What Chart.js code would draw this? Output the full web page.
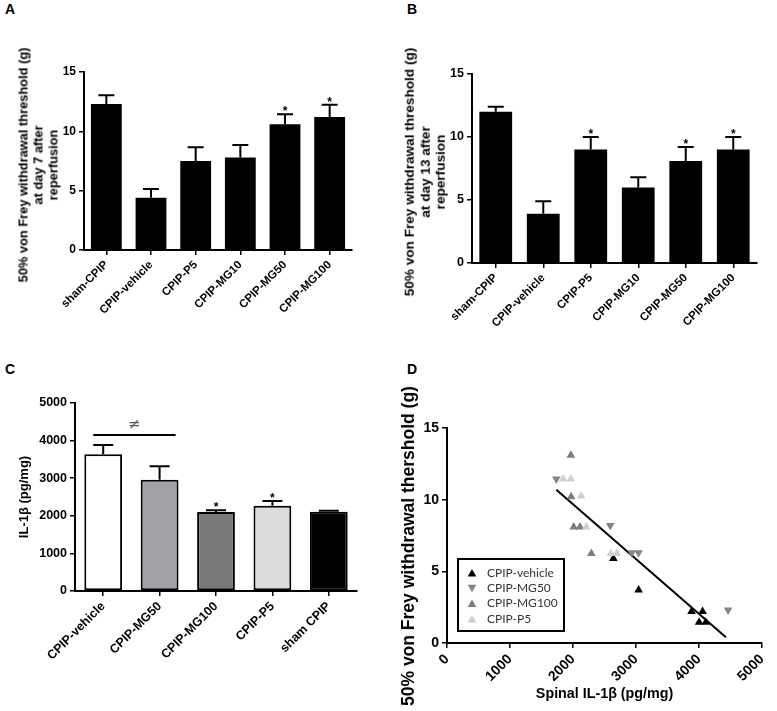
<!DOCTYPE html>
<html>
<head>
<meta charset="utf-8">
<script src="https://cdn.jsdelivr.net/npm/chart.js@4.4.1/dist/chart.umd.min.js"></script>
<style>
body { margin: 0; background: #fff; width: 777px; height: 711px; position: relative; overflow: hidden; font-family: "Liberation Sans", Arial, sans-serif; }
.panel { position: absolute; }
.letter { position: absolute; font-weight: bold; font-size: 14px; line-height: 14px; color: #000; }
.ytitle { position: absolute; font-weight: bold; color: #000; white-space: nowrap; text-align: center; transform: translate(-50%, -50%) rotate(-90deg); }
</style>
</head>
<body>
<div class="letter" style="left:5px;top:2px">A</div>
<div class="letter" style="left:407px;top:2px">B</div>
<div class="letter" style="left:5px;top:362px">C</div>
<div class="letter" style="left:407px;top:362px">D</div>

<div class="panel" style="left:0;top:0;width:390px;height:360px"><canvas id="chartA"></canvas></div>
<div class="panel" style="left:390px;top:0;width:387px;height:360px"><canvas id="chartB"></canvas></div>
<div class="panel" style="left:0;top:360px;width:390px;height:351px"><canvas id="chartC"></canvas></div>
<div class="panel" style="left:390px;top:360px;width:387px;height:351px"><canvas id="chartD"></canvas></div>

<div class="ytitle" style="left:37.5px;top:165px;font-size:12.85px;line-height:15px">50% von Frey withdrawal threshold (g)<br>at day 7 after<br>reperfusion</div>
<div class="ytitle" style="left:425px;top:172px;font-size:13.6px;line-height:15.5px">50% von Frey withdrawal threshold (g)<br>at day 13 after<br>reperfusion</div>
<div class="ytitle" style="left:408px;top:546px;font-size:17.5px;line-height:18px">50% von Frey withdrawal thershold (g)</div>

<script>
// Panel A / B - von Frey threshold at day 7 and day 13
const groupsAB = ['sham-CPIP', 'CPIP-vehicle', 'CPIP-P5', 'CPIP-MG10', 'CPIP-MG50', 'CPIP-MG100'];
const day7Mean = [12.3, 4.4, 7.5, 7.8, 10.6, 11.2];
const day7Sem = [0.75, 0.75, 1.15, 1.05, 0.85, 1.05];
const day7Stars = ['', '', '', '', '*', '*'];
const day13Mean = [12.0, 3.9, 9.0, 6.0, 8.1, 9.0];
const day13Sem = [0.4, 1.0, 1.0, 0.8, 1.1, 1.0];
const day13Stars = ['', '', '*', '', '*', '*'];
const thresholdTicks = [0, 5, 10, 15];

// Panel C - spinal IL-1b
const groupsC = ['CPIP-vehicle', 'CPIP-MG50', 'CPIP-MG100', 'CPIP-P5', 'sham CPIP'];
const il1bMean = [3640, 2960, 2100, 2270, 2110];
const il1bSem = [245, 360, 50, 125, 25];
const il1bStars = ['', '', '*', '*', ''];
const il1bColors = ['#ffffff', '#a2a2a6', '#7a7a7a', '#dcdcdc', '#000000'];
const il1bTicks = [0, 1000, 2000, 3000, 4000, 5000];
const sigLevel = 4150;       // horizontal line over vehicle vs MG50
const sigMarkLevel = 4420;   // "≠" above it

// Panel D - correlation
const vehicleX = [2640, 3040, 3880, 4055, 4000, 4105];
const vehicleY = [5.9, 3.7, 2.2, 2.2, 1.45, 1.45];
const mg50X = [1735, 2590, 2930, 3040, 4460];
const mg50Y = [11.45, 8.2, 6.3, 6.3, 2.3];
const mg100X = [1965, 1970, 2010, 2110, 2290];
const mg100Y = [13.1, 10.2, 8.1, 8.1, 6.25];
const p5X = [1845, 1965, 2130, 2210, 2600, 2695];
const p5Y = [11.45, 11.45, 10.25, 8.1, 6.25, 6.25];
const fitX = [1735, 4425];
const fitY = [10.7, 0.4];
const il1bAxisTicks = [0, 1000, 2000, 3000, 4000, 5000];
const seriesD = ['CPIP-vehicle', 'CPIP-MG50', 'CPIP-MG100', 'CPIP-P5'];
const colorsD = ['#000000', '#858585', '#7d7d7d', '#cfcfcf'];

Chart.defaults.color = '#000';
Chart.defaults.font.family = '"Liberation Sans", Arial, sans-serif';
Chart.defaults.animation = false;

const toPoints = (xs, ys) => xs.map((x, i) => ({ x: x, y: ys[i] }));
const fixedTicks = list => (s => { s.ticks = list.map(v => ({ value: v })); });

// error bars (upper only) + significance stars
function errorBarPlugin(mean, sem, stars, cap, starSize) {
    return {
        id: 'errorBars',
        afterDatasetsDraw(chart) {
            const ctx = chart.ctx;
            const yScale = chart.scales.y;
            const meta = chart.getDatasetMeta(0);
            ctx.save();
            ctx.strokeStyle = '#000';
            ctx.lineWidth = 2;
            meta.data.forEach((bar, i) => {
                const top = yScale.getPixelForValue(mean[i] + sem[i]);
                ctx.beginPath();
                ctx.moveTo(bar.x, bar.y);
                ctx.lineTo(bar.x, top);
                ctx.moveTo(bar.x - cap, top);
                ctx.lineTo(bar.x + cap, top);
                ctx.stroke();
                if (stars[i]) {
                    ctx.fillStyle = '#000';
                    ctx.font = 'bold ' + starSize + 'px "Liberation Sans", Arial, sans-serif';
                    ctx.textAlign = 'center';
                    ctx.textBaseline = 'alphabetic';
                    ctx.fillText(stars[i], bar.x, top + 1);
                }
            });
            ctx.restore();
        }
    };
}

function axisStyle(extra) {
    return Object.assign({
        border: { display: true, color: '#000', width: 2 },
        grid: { display: true, drawOnChartArea: false, drawTicks: true, tickLength: 5, color: '#000', lineWidth: 1.5 }
    }, extra);
}

const catGrid = { display: true, offset: false, drawOnChartArea: false, tickLength: 5, color: '#000', lineWidth: 1.5 };

function thresholdChart(id, labels, mean, sem, stars, fonts, box) {
    new Chart(document.getElementById(id), {
        type: 'bar',
        data: {
            labels: labels,
            datasets: [{
                data: mean,
                backgroundColor: '#000',
                borderWidth: 0,
                categoryPercentage: 1,
                barPercentage: 0.69
            }]
        },
        options: {
            responsive: true,
            maintainAspectRatio: false,
            layout: { padding: box.padding },
            plugins: { legend: { display: false }, tooltip: { enabled: false } },
            scales: {
                x: axisStyle({
                    grid: catGrid,
                    ticks: { font: { size: fonts.x, weight: 'bold' }, minRotation: 45, maxRotation: 45, autoSkip: false },
                    afterFit: s => { s.height = box.xHeight; }
                }),
                y: axisStyle({
                    min: 0, max: 15,
                    afterBuildTicks: fixedTicks(thresholdTicks),
                    ticks: { font: { size: fonts.y, weight: 'bold' }, padding: 3, callback: v => v },
                    afterFit: s => { s.width = box.yWidth; }
                })
            }
        },
        plugins: [errorBarPlugin(mean, sem, stars, 8, 12)]
    });
}

thresholdChart('chartA', groupsAB, day7Mean, day7Sem, day7Stars,
    { x: 11.5, y: 12 },
    { padding: { left: 11, top: 72, right: 38, bottom: 30 }, yWidth: 73, xHeight: 80 });

thresholdChart('chartB', groupsAB, day13Mean, day13Sem, day13Stars,
    { x: 11.5, y: 12.5 },
    { padding: { left: 7, top: 74, right: 20, bottom: 17 }, yWidth: 75, xHeight: 80 });

// significance bracket for panel C
const sigPlugin = {
    id: 'sigLine',
    afterDatasetsDraw(chart) {
        const ctx = chart.ctx;
        const x = chart.scales.x, y = chart.scales.y;
        const yLine = y.getPixelForValue(sigLevel);
        const x0 = x.getPixelForValue(0) - 10;
        const x1 = x.getPixelForValue(1) + 16;
        ctx.save();
        ctx.strokeStyle = '#000';
        ctx.lineWidth = 2;
        ctx.beginPath();
        ctx.moveTo(x0, yLine);
        ctx.lineTo(x1, yLine);
        ctx.stroke();
        ctx.fillStyle = '#555';
        ctx.font = '15px "DejaVu Sans", sans-serif';
        ctx.textAlign = 'center';
        ctx.textBaseline = 'middle';
        ctx.fillText('≠', (x0 + x1) / 2, y.getPixelForValue(sigMarkLevel));
        ctx.restore();
    }
};

new Chart(document.getElementById('chartC'), {
    type: 'bar',
    data: {
        labels: groupsC,
        datasets: [{
            data: il1bMean,
            backgroundColor: il1bColors,
            borderColor: '#000',
            borderWidth: 2,
            borderSkipped: false,
            categoryPercentage: 1,
            barPercentage: 0.67
        }]
    },
    options: {
        responsive: true,
        maintainAspectRatio: false,
        layout: { padding: { left: 13, top: 43, right: 33, bottom: 40 } },
        plugins: { legend: { display: false }, tooltip: { enabled: false } },
        scales: {
            x: axisStyle({
                grid: catGrid,
                ticks: { font: { size: 12.5, weight: 'bold' }, minRotation: 45, maxRotation: 45, autoSkip: false },
                afterFit: s => { s.height = 80; }
            }),
            y: axisStyle({
                min: 0, max: 5000,
                afterBuildTicks: fixedTicks(il1bTicks),
                ticks: { font: { size: 12.5, weight: 'bold' }, padding: 3, callback: v => v },
                title: { display: true, text: 'IL-1β (pg/mg)', font: { size: 13, weight: 'bold' }, padding: { top: 4, bottom: 0 } },
                afterFit: s => { s.width = 62; }
            })
        }
    },
    plugins: [errorBarPlugin(il1bMean, il1bSem, il1bStars, 10, 12), sigPlugin]
});

// legend drawn inside the plot area of panel D
const insideLegend = {
    id: 'insideLegend',
    afterDraw(chart) {
        const ctx = chart.ctx;
        const a = chart.chartArea;
        const bx = a.left + 11, by = a.top + 131, bw = 106, bh = 72;
        ctx.save();
        ctx.strokeStyle = '#000';
        ctx.lineWidth = 2;
        ctx.strokeRect(bx, by, bw, bh);
        ctx.font = '12px Lato, "Open Sans", sans-serif';
        ctx.textAlign = 'left';
        ctx.textBaseline = 'middle';
        seriesD.forEach((name, i) => {
            const cy = by + 14 + i * 15.3;
            ctx.fillStyle = colorsD[i];
            ctx.beginPath();
            const r = 5, rad0 = (i === 1 ? Math.PI : 0);
            for (let k = 0; k < 3; k++) {
                const rad = rad0 + k * 2 * Math.PI / 3;
                const px = bx + 14 + Math.sin(rad) * r, py = cy - Math.cos(rad) * r + (i === 1 ? -1 : 1);
                if (k === 0) ctx.moveTo(px, py); else ctx.lineTo(px, py);
            }
            ctx.closePath();
            ctx.fill();
            ctx.fillStyle = '#333';
            ctx.fillText(name, bx + 29, cy);
        });
        ctx.restore();
    }
};

const scatterSet = (label, xs, ys, color, rot) => ({
    label: label,
    data: toPoints(xs, ys),
    pointStyle: 'triangle',
    rotation: rot,
    pointRadius: 5,
    pointBackgroundColor: color,
    pointBorderColor: color,
    pointBorderWidth: 0,
    showLine: false,
    order: 1
});

new Chart(document.getElementById('chartD'), {
    type: 'scatter',
    data: {
        datasets: [
            {
                label: 'fit',
                data: toPoints(fitX, fitY),
                showLine: true,
                borderColor: '#000',
                borderWidth: 2,
                pointRadius: 0,
                order: 10
            },
            scatterSet(seriesD[3], p5X, p5Y, colorsD[3], 0),
            scatterSet(seriesD[2], mg100X, mg100Y, colorsD[2], 0),
            scatterSet(seriesD[1], mg50X, mg50Y, colorsD[1], 180),
            scatterSet(seriesD[0], vehicleX, vehicleY, colorsD[0], 0)
        ]
    },
    options: {
        responsive: true,
        maintainAspectRatio: false,
        layout: { padding: { left: 4, top: 68, right: 9, bottom: 4 } },
        plugins: { legend: { display: false }, tooltip: { enabled: false } },
        scales: {
            x: axisStyle({
                type: 'linear', min: 0, max: 5000,
                afterBuildTicks: fixedTicks(il1bAxisTicks),
                ticks: { font: { size: 14, weight: 'bold' }, minRotation: 45, maxRotation: 45, callback: v => v },
                title: { display: true, text: 'Spinal IL-1β (pg/mg)', font: { size: 14.3, weight: 'bold' }, padding: { top: 0, bottom: 4 } },
                afterFit: s => { s.height = 64; }
            }),
            y: axisStyle({
                min: 0, max: 15,
                afterBuildTicks: fixedTicks(thresholdTicks),
                ticks: { font: { size: 14, weight: 'bold' }, padding: 3, callback: v => v },
                afterFit: s => { s.width = 53; }
            })
        }
    },
    plugins: [insideLegend]
});
</script>
</body>
</html>
